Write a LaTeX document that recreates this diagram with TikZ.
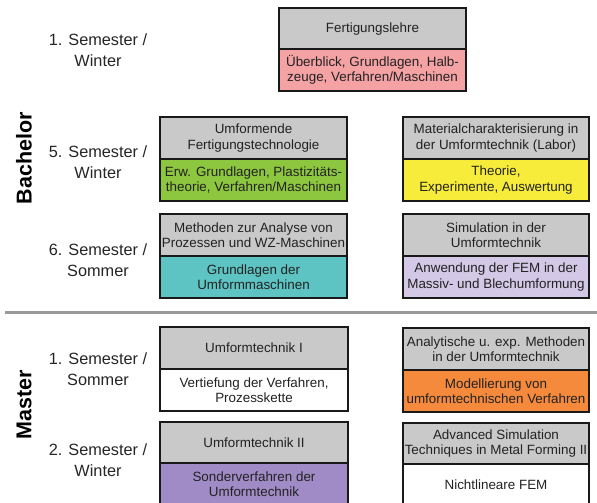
\documentclass[tikz,border=0pt]{standalone}
\usepackage{fontspec}
\setmainfont{Liberation Sans}
\definecolor{headgray}{HTML}{C9C9CA}
\definecolor{cpink}{HTML}{F4A2A4}
\definecolor{cgreen}{HTML}{8DC63F}
\definecolor{cyellow}{HTML}{F7EC3A}
\definecolor{cteal}{HTML}{5EC3C3}
\definecolor{clav}{HTML}{D3C8E6}
\definecolor{corange}{HTML}{F58A3C}
\definecolor{cpurple}{HTML}{A08BC6}
\definecolor{txt}{HTML}{222222}
\definecolor{sepgray}{HTML}{9A9A9A}
\begin{document}
\begin{tikzpicture}[x=1pt,y=-1pt,
  half/.style={draw=black!90, line width=2.5pt, anchor=north west, inner sep=0pt, outer sep=0pt,
    align=center, text=txt, font=\fontsize{13.4}{15.5}\selectfont,
    minimum width=187, minimum height=42},
  head/.style={half, fill=headgray},
  sem/.style={align=center, text=black!85, font=\fontsize{16.3}{20.5}\selectfont},
  degree/.style={rotate=90, font=\bfseries\fontsize{21.5}{24}\selectfont, text=black}]
\useasboundingbox (0,0) rectangle (597,503);
\clip (0,0) rectangle (597,503);
\fill[white] (0,0) rectangle (597,503);

% labels
\node[degree] (bach) at (24,158) {Bachelor};
\node[degree] (mast) at (24,405) {Master};
\node[sem] (s1) at (98,50) {1. Semester /\\Winter};
\node[sem] (s5) at (98,162) {5. Semester /\\Winter};
\node[sem] (s6) at (98,260) {6. Semester /\\Sommer};
\node[sem] (m1) at (98,369) {1. Semester /\\Sommer};
\node[sem] (m2) at (98,460) {2. Semester /\\Winter};

% separator
\coordinate (sepL) at (5,312);
\coordinate (sepR) at (597,312);
\draw[sepgray, line width=3pt] (sepL) -- (sepR);

% courses
\node[head] (a1) at (279,8) {Fertigungslehre};
\node[half, fill=cpink] (a2) at (279,49) {Überblick, Grundlagen, Halb-\\zeuge, Verfahren/Maschinen};

\node[head] (b1) at (160,117) {Umformende\\Fertigungstechnologie};
\node[half, fill=cgreen] (b2) at (160,159) {Erw. Grundlagen, Plastizitäts-\\theorie, Verfahren/Maschinen};

\node[head, minimum width=186] (c1) at (403,117) {Materialcharakterisierung in\\der Umformtechnik (Labor)};
\node[half, fill=cyellow, minimum width=186] (c2) at (403,159) {Theorie,\\Experimente, Auswertung};

\node[head] (d1) at (160,214) {Methoden zur Analyse von\\Prozessen und WZ-Maschinen};
\node[half, fill=cteal] (d2) at (160,256) {Grundlagen der\\Umformmaschinen};

\node[head, minimum width=186] (e1) at (403,214) {Simulation in der\\Umformtechnik};
\node[half, fill=clav, minimum width=186] (e2) at (403,256) {Anwendung der FEM in der\\Massiv- und Blechumformung};

\node[head, minimum width=188] (f1) at (160,327) {Umformtechnik I};
\node[half, fill=white, minimum width=188] (f2) at (160,369) {Vertiefung der Verfahren,\\Prozesskette};

\node[head, minimum width=186] (g1) at (403,328) {Analytische u. exp. Methoden\\in der Umformtechnik};
\node[half, fill=corange, minimum width=186] (g2) at (403,370) {Modellierung von\\umformtechnischen Verfahren};

\node[head, minimum width=188, minimum height=41] (h1) at (160,422) {Umformtechnik II};
\node[half, fill=cpurple, minimum width=188] (h2) at (160,463) {Sonderverfahren der\\Umformtechnik};

\node[head, minimum width=186, minimum height=41] (i1) at (403,423) {Advanced Simulation\\Techniques in Metal Forming II};
\node[half, fill=white, minimum width=186] (i2) at (403,464) {Nichtlineare FEM};
\end{tikzpicture}
\end{document}
